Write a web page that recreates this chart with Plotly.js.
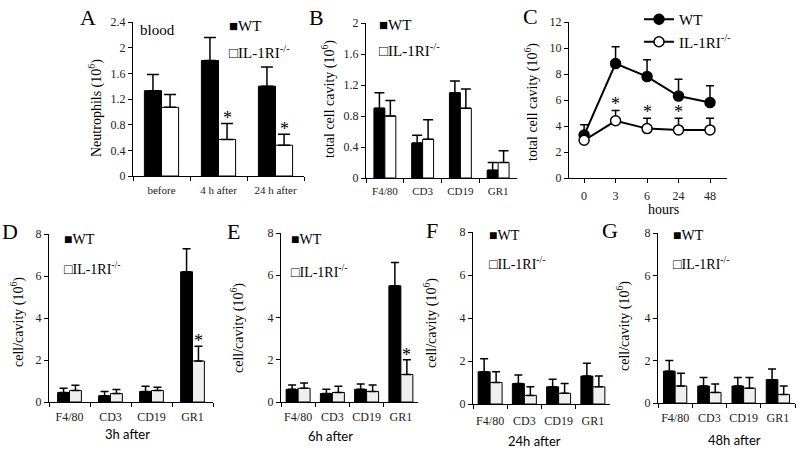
<!DOCTYPE html>
<html>
<head>
<meta charset="utf-8">
<script src="https://cdn.plot.ly/plotly-3.0.1.min.js"></script>
<style>
html,body{margin:0;padding:0;background:#fff;}
#chart{width:800px;height:451px;}
</style>
</head>
<body>
<div id="chart"></div>
<script>
// ---------- data ----------
const catsA = ['before', '4 h after', '24 h after'];
const wtA = [1.33, 1.8, 1.4];
const wtAerr = [0.25, 0.36, 0.3];
const ilA = [1.07, 0.57, 0.48];
const ilAerr = [0.2, 0.25, 0.17];
const sigA = [false, true, true];

const cellCats = ['F4/80', 'CD3', 'CD19', 'GR1'];
const wtB = [0.9, 0.45, 1.1, 0.1];
const wtBerr = [0.2, 0.1, 0.15, 0.1];
const ilB = [0.8, 0.5, 0.9, 0.2];
const ilBerr = [0.2, 0.25, 0.25, 0.15];
const sigB = [false, false, false, false];

const hoursC = ['0', '3', '6', '24', '48'];
const wtC = [3.3, 8.8, 7.8, 6.3, 5.8];
const wtCerr = [0.8, 1.3, 1.3, 1.3, 1.3];
const ilC = [2.9, 4.4, 3.8, 3.7, 3.7];
const ilCerr = [0.3, 0.8, 0.8, 0.9, 0.9];
const sigC = [false, true, true, true, false];

const wtD = [0.45, 0.3, 0.5, 6.2];
const wtDerr = [0.2, 0.2, 0.25, 1.1];
const ilD = [0.55, 0.4, 0.55, 1.95];
const ilDerr = [0.25, 0.2, 0.15, 0.7];
const sigD = [false, false, false, true];

const wtE = [0.6, 0.4, 0.6, 5.5];
const wtEerr = [0.2, 0.2, 0.25, 1.1];
const ilE = [0.65, 0.45, 0.5, 1.3];
const ilEerr = [0.25, 0.3, 0.3, 0.7];
const sigE = [false, false, false, true];

const wtF = [1.5, 0.95, 0.8, 1.3];
const wtFerr = [0.6, 0.4, 0.35, 0.6];
const ilF = [1.0, 0.4, 0.5, 0.8];
const ilFerr = [0.5, 0.4, 0.45, 0.5];
const sigF = [false, false, false, false];

const wtG = [1.5, 0.8, 0.8, 1.1];
const wtGerr = [0.5, 0.4, 0.4, 0.5];
const ilG = [0.8, 0.5, 0.7, 0.4];
const ilGerr = [0.6, 0.4, 0.5, 0.4];
const sigG = [false, false, false, false];

// ---------- styles ----------
const SERIF = 'Liberation Serif';
const SANS = 'Lato';
const W = 800, H = 451;
const px = v => v / W;
const py = v => 1 - v / H;

const traces = [];
const annotations = [];
const layout = {
  width: W, height: H,
  margin: {l: 0, r: 0, t: 0, b: 0},
  paper_bgcolor: '#fff', plot_bgcolor: 'rgba(0,0,0,0)',
  font: {family: SERIF, color: '#000'},
  showlegend: true,
  legend: {
    x: px(639), y: py(3), xanchor: 'left', yanchor: 'top',
    font: {family: SERIF, size: 15, color: '#000'},
    bgcolor: 'rgba(0,0,0,0)', tracegroupgap: 0, itemwidth: 30
  },
  annotations: annotations
};

function zeros(a) { return a.map(() => 0); }

function label(x, y, text, size, anchor, family, angle) {
  annotations.push({
    xref: 'paper', yref: 'paper', x: px(x), y: py(y), text: text,
    showarrow: false, xanchor: anchor || 'center', yanchor: 'middle',
    textangle: angle || 0,
    font: {family: family || SERIF, size: size, color: '#000'}
  });
}

function axes(n, xd, yd, yrange, dtick, tickon, xfontSize, xlabStandoff, ytitle, ytx, yty) {
  const xs = n === 1 ? 'xaxis' : 'xaxis' + n;
  const ys = n === 1 ? 'yaxis' : 'yaxis' + n;
  const xa = n === 1 ? 'x' : 'x' + n;
  const ya = n === 1 ? 'y' : 'y' + n;
  layout[xs] = {
    domain: xd, anchor: ya, type: 'category',
    showline: true, linecolor: '#000', linewidth: 1,
    ticks: 'outside', ticklen: 4, tickcolor: '#000', tickwidth: 1,
    tickson: tickon, ticklabelstandoff: xlabStandoff, tickangle: 0,
    tickfont: {family: SERIF, size: xfontSize, color: '#222'},
    showgrid: false, zeroline: false, fixedrange: true, automargin: false
  };
  layout[ys] = {
    domain: yd, anchor: xa, range: yrange, dtick: dtick,
    showline: true, linecolor: '#000', linewidth: 1,
    ticks: 'outside', ticklen: 4, tickcolor: '#000', tickwidth: 1,
    tickfont: {family: SERIF, size: 12, color: '#222'},
    showgrid: false, zeroline: false, fixedrange: true, automargin: false
  };
  // y-axis title as rotated text beside the axis
  label(ytx, yty, ytitle, 14, 'center', SERIF, -90);
}

function barPanel(n, cats, wt, wtErr, il, ilErr, sig, ilFill, w, capW) {
  const xa = n === 1 ? 'x' : 'x' + n;
  const ya = n === 1 ? 'y' : 'y' + n;
  traces.push({
    type: 'bar', x: cats, y: wt, xaxis: xa, yaxis: ya, name: 'WT', showlegend: false,
    width: w, offset: -w,
    marker: {color: '#000', line: {color: '#000', width: 1}},
    error_y: {type: 'data', array: wtErr, arrayminus: zeros(wtErr), symmetric: false,
              color: '#000', thickness: 1.5, width: capW},
    hoverinfo: 'skip'
  });
  traces.push({
    type: 'bar', x: cats, y: il, xaxis: xa, yaxis: ya, name: 'IL-1RI-/-', showlegend: false,
    width: w, offset: 0,
    marker: {color: ilFill, line: {color: '#000', width: 1}},
    error_y: {type: 'data', array: ilErr, arrayminus: zeros(ilErr), symmetric: false,
              color: '#000', thickness: 1.5, width: capW},
    hoverinfo: 'skip'
  });
  sig.forEach((s, i) => {
    if (s) annotations.push({
      xref: xa, yref: ya, x: i + w / 2, y: il[i] + ilErr[i],
      text: '*', showarrow: false, yanchor: 'bottom', yshift: -7,
      font: {family: SERIF, size: 18, color: '#000'}
    });
  });
}

function barLegend(x, y1, y2, size, ilGlyph) {
  label(x, y1, '<span style="font-size:' + size + 'px">■</span>WT', size, 'left');
  label(x, y2, '<span style="font-size:' + size + 'px">' + ilGlyph + '</span>IL-1RI<sup>-/-</sup>', size, 'left');
}

// Panel A
axes(1, [px(133), px(304)], [py(176), py(22)], [0, 2.4], 0.4, 'boundaries', 11, 4,
     'Neutrophils (10<sup>6</sup>)', 95, 108);
barPanel(1, catsA, wtA, wtAerr, ilA, ilAerr, sigA, '#fff', 0.3, 6);
// Panel B
axes(2, [px(366), px(517)], [py(178), py(23)], [0, 2], 0.4, 'boundaries', 11, 3,
     'total cell cavity (10<sup>6</sup>)', 329, 99);
barPanel(2, cellCats, wtB, wtBerr, ilB, ilBerr, sigB, '#fff', 0.29, 5);
// Panel C
axes(3, [px(569), px(727)], [py(178), py(22)], [0, 12], 2, 'labels', 12, 3,
     'total cell cavity (10<sup>6</sup>)', 531, 102);
layout.xaxis3.range = [-0.48, 4.54];
traces.push({
  type: 'scatter', mode: 'lines+markers', x: hoursC, y: wtC, xaxis: 'x3', yaxis: 'y3',
  name: 'WT', line: {color: '#000', width: 2},
  marker: {symbol: 'circle', size: 10, color: '#000', line: {color: '#000', width: 1.5}},
  error_y: {type: 'data', array: wtCerr, arrayminus: zeros(wtCerr), symmetric: false,
            color: '#000', thickness: 1.5, width: 4},
  hoverinfo: 'skip'
});
traces.push({
  type: 'scatter', mode: 'lines+markers', x: hoursC, y: ilC, xaxis: 'x3', yaxis: 'y3',
  name: 'IL-1RI<sup>-/-</sup>', line: {color: '#000', width: 2},
  marker: {symbol: 'circle', size: 10, color: '#fff', line: {color: '#000', width: 1.5}},
  error_y: {type: 'data', array: ilCerr, arrayminus: zeros(ilCerr), symmetric: false,
            color: '#000', thickness: 1.5, width: 4},
  hoverinfo: 'skip'
});
sigC.forEach((s, i) => {
  if (s) annotations.push({
    xref: 'x3', yref: 'y3', x: i, y: ilC[i] + ilCerr[i], text: '*', showarrow: false,
    yanchor: 'bottom', yshift: -6, font: {family: SERIF, size: 18, color: '#000'}
  });
});
label(663, 210, 'hours', 14);

// Panels D-G
axes(4, [px(49), px(213)], [py(402), py(234)], [0, 8], 2, 'boundaries', 12, 4,
     'cell/cavity (10<sup>6</sup>)', 17, 322);
barPanel(4, cellCats, wtD, wtDerr, ilD, ilDerr, sigD, '#efefef', 0.29, 4);
axes(5, [px(281), px(418)], [py(402), py(233)], [0, 8], 2, 'boundaries', 12, 4,
     'cell/cavity (10<sup>6</sup>)', 237, 328);
barPanel(5, cellCats, wtE, wtEerr, ilE, ilEerr, sigE, '#efefef', 0.35, 4);
axes(6, [px(473), px(610)], [py(404), py(232)], [0, 8], 2, 'boundaries', 12, 6,
     'cell/cavity (10<sup>6</sup>)', 430, 323);
barPanel(6, cellCats, wtF, wtFerr, ilF, ilFerr, sigF, '#efefef', 0.35, 4);
axes(7, [px(658), px(795)], [py(403), py(233)], [0, 8], 2, 'boundaries', 12, 4,
     'cell/cavity (10<sup>6</sup>)', 623, 326);
barPanel(7, cellCats, wtG, wtGerr, ilG, ilGerr, sigG, '#efefef', 0.34, 4);

// x-axis titles (sans)
label(127, 434, '3h after', 13, 'center', SANS);
label(330, 436, '6h after', 13, 'center', SANS);
label(534, 441, '24h after', 13, 'center', SANS);
label(734, 440, '48h after', 13, 'center', SANS);

// panel letters
label(88, 17, 'A', 22);
label(316, 17, 'B', 22);
label(530, 16, 'C', 22);
label(10, 231, 'D', 22);
label(233, 231, 'E', 22);
label(432, 230, 'F', 22);
label(610, 230, 'G', 22);
label(157, 30, 'blood', 15);

// legends for bar panels
barLegend(227, 26, 52, 15, '□');
barLegend(377, 25, 50, 15, '□');
barLegend(62, 239, 268, 14, '□');
barLegend(289, 240, 271, 14, '□');
barLegend(487, 235, 263, 14, '□');
barLegend(671, 235, 263, 14, '□');

Plotly.newPlot('chart', traces, layout, {staticPlot: true});
</script>
</body>
</html>
